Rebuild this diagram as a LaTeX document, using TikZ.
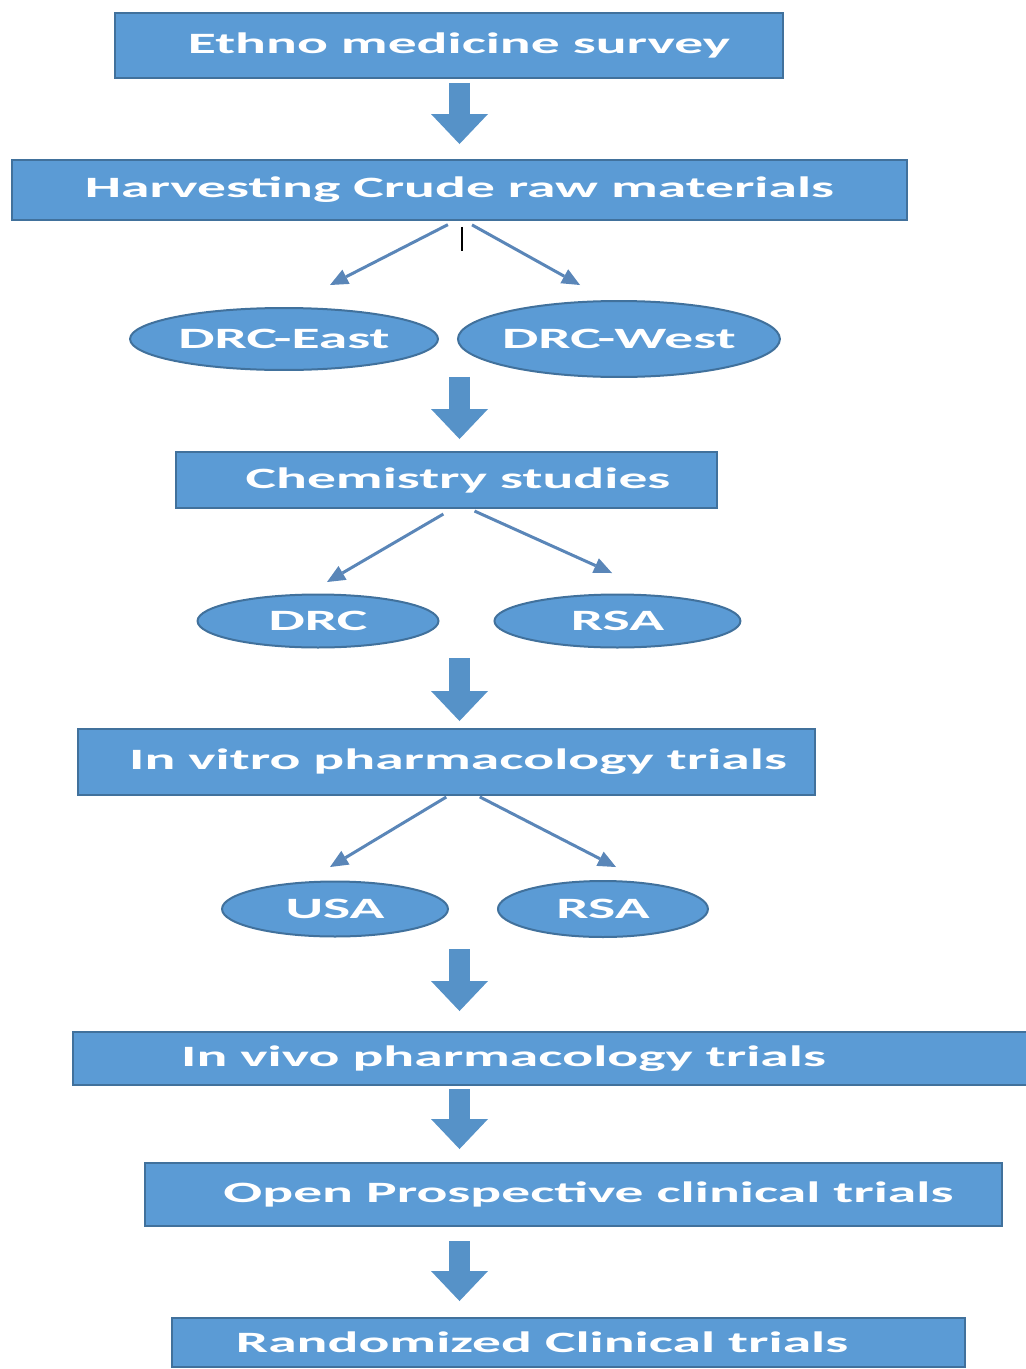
\documentclass[tikz,border=0pt]{standalone}
\usepackage{fontspec}
\newfontfamily\flowfont[FakeStretch=1.95]{Carlito}
\usetikzlibrary{positioning, arrows.meta, shapes.geometric}
\definecolor{boxblue}{HTML}{5B9BD5}
\definecolor{edgeblue}{HTML}{41719C}
\definecolor{linkblue}{HTML}{5A86B8}

\begin{document}
\begin{tikzpicture}[x=0.02cm,y=-0.02cm,
    font=\flowfont\bfseries\fontsize{16.8}{20}\selectfont,
    box/.style={rectangle,draw=edgeblue,line width=0.04cm,fill=boxblue,text=white,inner sep=0pt},
    site/.style={ellipse,draw=edgeblue,line width=0.04cm,fill=boxblue,text=white,inner xsep=-0.15cm,inner ysep=0pt},
    down/.style={color=boxblue!94!black,line width=0.42cm,-{Triangle[width=1.14cm,length=0.6cm,line width=0pt]}},
    split/.style={color=linkblue,line width=0.06cm,-{Triangle[width=0.32cm,length=0.36cm,line width=0pt]}}]
      \useasboundingbox (0,0) rectangle (1025,1369);
      \node[box,minimum width=13.36cm,minimum height=1.3cm] (survey) at (449,45.5) {\hspace*{0.4cm}Ethno medicine survey};
      \node[box,minimum width=17.9cm,minimum height=1.2cm] (harvest) at (459.5,190) {Harvesting Crude raw materials};
      \node[site,minimum width=6.16cm,minimum height=1.24cm] (east) at (284,339) {DRC-East};
      \node[site,minimum width=6.44cm,minimum height=1.52cm,right=0.36cm of east] (west) {DRC-West};
      \node[box,minimum width=10.82cm,minimum height=1.12cm] (chem) at (446.5,480) {\hspace*{0.46cm}Chemistry studies};
      \node[site,minimum width=4.82cm,minimum height=1.06cm] (drc) at (318,621) {DRC};
      \node[site,minimum width=4.92cm,minimum height=1.06cm,right=1.08cm of drc] (rsa) {RSA};
      \node[box,minimum width=14.74cm,minimum height=1.32cm] (vitro) at (446.5,762) {\hspace*{0.46cm}In vitro pharmacology trials};
      \node[site,minimum width=4.52cm,minimum height=1.1cm] (usa) at (335,909) {USA};
      \node[site,minimum width=4.2cm,minimum height=1.12cm,right=0.96cm of usa] (rsb) {RSA};
      \node[box,minimum width=19.34cm,minimum height=1.06cm] (vivo) at (556.5,1058.5) {In vivo pharmacology trials\hspace*{2.12cm}};
      \node[box,minimum width=17.14cm,minimum height=1.26cm] (open) at (573.5,1194.5) {\hspace*{0.6cm}Open Prospective clinical trials};
      \node[box,minimum width=15.86cm,minimum height=0.98cm] (random) at (568.5,1342.5) {Randomized Clinical trials\hspace*{1.06cm}};
      % tips of the thin arrows
      \coordinate (t1) at (330,285);
      \coordinate (t2) at (580,285);
      \coordinate (t3) at (327,582);
      \coordinate (t4) at (612,573);
      \coordinate (t5) at (330,867);
      \coordinate (t6) at (616,867);
      \path (survey.south -| harvest) edge[down,shorten <=0.08cm,shorten >=0.3cm] (harvest.north)
        (east.south -| harvest) edge[down,shorten <=0.12cm,shorten >=0.24cm] (chem.north -| harvest)
        (drc.south -| harvest) edge[down,shorten <=0.19cm,shorten >=0.14cm] (vitro.north -| harvest)
        (usa.south -| harvest) edge[down,shorten <=0.23cm,shorten >=0.4cm] (vivo.north -| harvest)
        (vivo.south -| harvest) edge[down,shorten <=0.06cm,shorten >=0.26cm] (open.north -| harvest)
        (open.south -| harvest) edge[down,shorten <=0.28cm,shorten >=0.32cm] (random.north -| harvest);
      \path ([xshift=-0.09cm]harvest.south) edge[split,shorten <=0.16cm] (t1)
        ([xshift=0.11cm]harvest.south) edge[split,shorten <=0.16cm] (t2)
        ([xshift=0.11cm]chem.south) edge[split,shorten <=0.2cm] (t3)
        ([xshift=0.47cm]chem.south) edge[split,shorten <=0.1cm] (t4)
        ([xshift=0.03cm]vitro.south) edge[split,shorten <=0.04cm] (t5)
        ([xshift=0.63cm]vitro.south) edge[split,shorten <=0.04cm] (t6);
      \draw[black,line width=0.05cm] ([xshift=0.05cm]harvest.south) ++(0,6) -- ++(0,24);
    \end{tikzpicture}
\end{document}
